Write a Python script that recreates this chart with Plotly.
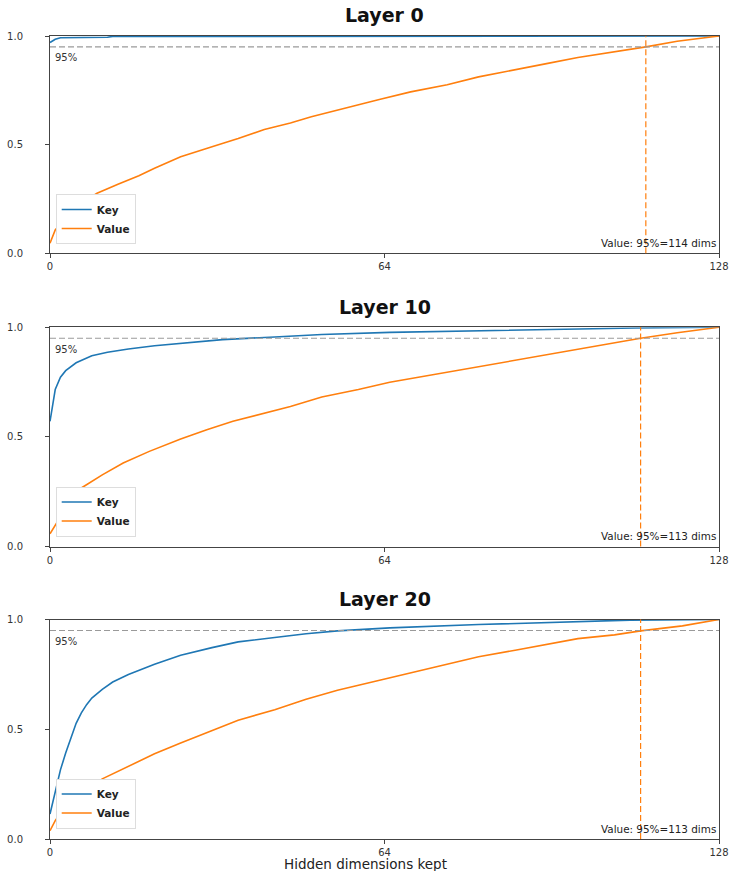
import plotly.graph_objects as go

# ---------------- data ----------------
layer_names = ["Layer 0", "Layer 10", "Layer 20"]
x_ticks = [0, 64, 128]
y_ticks = [0.0, 0.5, 1.0]
y_tick_labels = ["0.0", "0.5", "1.0"]
threshold = 0.95
value_95_dims = [114, 113, 113]

l0_key_dims = [0, 1, 2, 11, 12, 128]
l0_key_vals = [0.97, 0.985, 0.992, 0.994, 0.998, 1.0]
l0_val_dims = [0, 1, 5, 9, 13, 17, 20, 25, 31, 36, 41, 46, 50, 55, 59, 63, 69, 76, 82, 89, 95, 101, 108, 114, 120, 128]
l0_val_vals = [0.046, 0.107, 0.215, 0.276, 0.318, 0.357, 0.391, 0.444, 0.490, 0.528, 0.570, 0.600, 0.628,
               0.659, 0.686, 0.708, 0.743, 0.776, 0.812, 0.843, 0.873, 0.901, 0.927, 0.950, 0.976, 1.0]

l10_key_dims = [0, 1, 2, 3, 5, 8, 11, 15, 20, 27, 33, 43, 52, 65, 76, 88, 100, 106, 112, 128]
l10_key_vals = [0.571, 0.716, 0.772, 0.802, 0.838, 0.870, 0.886, 0.901, 0.916, 0.931, 0.944, 0.956, 0.967,
                0.977, 0.982, 0.986, 0.990, 0.994, 0.997, 1.0]
l10_val_dims = [0, 2, 4, 6, 10, 14, 19, 25, 30, 35, 40, 46, 52, 59, 65, 70, 76, 82, 88, 94, 100, 106, 113, 120, 128]
l10_val_vals = [0.058, 0.137, 0.213, 0.267, 0.327, 0.381, 0.434, 0.490, 0.533, 0.571, 0.601, 0.639, 0.682,
                0.716, 0.749, 0.770, 0.795, 0.820, 0.845, 0.870, 0.895, 0.920, 0.950, 0.975, 1.0]

l20_key_dims = [0, 1, 2, 3, 4, 5, 6, 7, 8, 10, 12, 15, 20, 25, 31, 36, 43, 49, 55, 65, 82, 101, 111, 128]
l20_key_vals = [0.114, 0.213, 0.315, 0.392, 0.462, 0.527, 0.575, 0.612, 0.642, 0.682, 0.715, 0.749, 0.796,
                0.837, 0.872, 0.898, 0.918, 0.935, 0.948, 0.962, 0.977, 0.989, 0.997, 1.0]
l20_val_dims = [0, 1, 3, 6, 10, 15, 20, 25, 31, 36, 43, 49, 55, 63, 69, 76, 82, 89, 95, 101, 108, 113, 121, 128]
l20_val_vals = [0.038, 0.084, 0.152, 0.213, 0.274, 0.332, 0.388, 0.437, 0.495, 0.541, 0.589, 0.637, 0.678,
                0.723, 0.758, 0.795, 0.830, 0.860, 0.888, 0.913, 0.930, 0.948, 0.971, 1.0]

key_series = [(l0_key_dims, l0_key_vals), (l10_key_dims, l10_key_vals), (l20_key_dims, l20_key_vals)]
val_series = [(l0_val_dims, l0_val_vals), (l10_val_dims, l10_val_vals), (l20_val_dims, l20_val_vals)]

# ---------------- styling ----------------
W, H = 730, 871
ML, MR, MT, MB = 50, 11, 36, 32
PW, PH = W - ML - MR, H - MT - MB
FONT = "DejaVu Sans"
BLUE = "#1f77b4"
ORANGE = "#ff7f0e"
SPINE = "#444444"
TEXT = "#333333"


def fy(px):
    """figure pixel row -> paper fraction of the plotting area"""
    return (H - MB - px) / PH


def fx(px):
    return (px - ML) / PW


panel_px = [(36.0, 253.3), (327.3, 546.5), (619.5, 839.0)]
title_px = [15, 307, 599]
legend_bottom_px = [244.0, 536.5, 828.5]

fig = go.Figure()
legend_names = ["legend", "legend2", "legend3"]

for i in range(3):
    xa = "x" if i == 0 else f"x{i+1}"
    ya = "y" if i == 0 else f"y{i+1}"
    kd, kv = key_series[i]
    vd, vv = val_series[i]
    fig.add_trace(go.Scatter(x=kd, y=kv, mode="lines", name="Key", xaxis=xa, yaxis=ya,
                             line=dict(color=BLUE, width=1.6), legend=legend_names[i]))
    fig.add_trace(go.Scatter(x=vd, y=vv, mode="lines", name="Value", xaxis=xa, yaxis=ya,
                             line=dict(color=ORANGE, width=1.6), legend=legend_names[i]))

layout = dict(
    width=W, height=H,
    margin=dict(l=ML, r=MR, t=MT, b=MB, autoexpand=False),
    paper_bgcolor="white", plot_bgcolor="white",
    font=dict(family=FONT, size=10, color=TEXT),
    showlegend=True,
)

for i in range(3):
    top, bot = panel_px[i]
    xkey = "xaxis" if i == 0 else f"xaxis{i+1}"
    ykey = "yaxis" if i == 0 else f"yaxis{i+1}"
    anchor_x = "y" if i == 0 else f"y{i+1}"
    anchor_y = "x" if i == 0 else f"x{i+1}"
    layout[xkey] = dict(domain=[0, 1], anchor=anchor_x, range=[0, 128], automargin=False,
                        tickvals=x_ticks, ticktext=[str(t) for t in x_ticks],
                        showgrid=False, zeroline=False, showline=True, mirror=True,
                        linecolor=SPINE, linewidth=1, ticks="outside", ticklen=4,
                        tickcolor=SPINE, tickfont=dict(size=10, color=TEXT, family=FONT))
    layout[ykey] = dict(domain=[max(0.0, fy(bot)), min(1.0, fy(top))], anchor=anchor_y, range=[0, 1.0],
                        automargin=False,
                        tickvals=y_ticks, ticktext=y_tick_labels,
                        showgrid=False, zeroline=False, showline=True, mirror=True,
                        linecolor=SPINE, linewidth=1, ticks="outside", ticklen=4,
                        tickcolor=SPINE, ticklabelstandoff=20,
                        tickfont=dict(size=10, color=TEXT, family=FONT))
    layout[legend_names[i]] = dict(
        x=fx(55.7), y=fy(legend_bottom_px[i]), xanchor="left", yanchor="bottom",
        bgcolor="white", bordercolor="#dddddd", borderwidth=1,
        font=dict(family=FONT, size=10.5, color="#222222", weight="bold"),
        itemwidth=30, tracegroupgap=0,
    )

fig.update_layout(**layout)

shapes = []
annotations = []
for i in range(3):
    xr = "x" if i == 0 else f"x{i+1}"
    yr = "y" if i == 0 else f"y{i+1}"
    shapes.append(dict(type="line", xref=f"{xr} domain", yref=yr, x0=0, x1=1,
                       y0=threshold, y1=threshold,
                       line=dict(color="#9a9a9a", width=1.2, dash="6px,3px")))
    shapes.append(dict(type="line", xref=xr, yref=f"{yr} domain",
                       x0=value_95_dims[i], x1=value_95_dims[i], y0=0, y1=1,
                       line=dict(color=ORANGE, width=1.2, dash="6px,3px")))
    annotations.append(dict(text="<b>" + layer_names[i] + "</b>", xref=f"{xr} domain", x=0.5,
                            yref="paper", y=fy(title_px[i]), xanchor="center", yanchor="middle",
                            showarrow=False, font=dict(family=FONT, size=19, color="#111111")))
    annotations.append(dict(text="95%", xref=f"{xr} domain", x=0.004, xanchor="left",
                            yref=yr, y=0.935, yanchor="top", showarrow=False,
                            font=dict(family=FONT, size=10, color=TEXT)))
    annotations.append(dict(text=f"Value: 95%={value_95_dims[i]} dims", xref=f"{xr} domain", x=0.998,
                            xanchor="right", yref=f"{yr} domain", y=0.01, yanchor="bottom",
                            showarrow=False, font=dict(family=FONT, size=10.4, color="#222222")))

annotations.append(dict(text="Hidden dimensions kept", xref="paper", x=fx(365), yref="paper",
                        y=fy(864.3), xanchor="center", yanchor="middle", showarrow=False,
                        font=dict(family=FONT, size=13.5, color="#222222")))

fig.update_layout(shapes=shapes, annotations=annotations)
fig.write_html("out.html", config={"displayModeBar": False},
               post_script="document.body.style.margin='0px';document.body.style.padding='0px';")
